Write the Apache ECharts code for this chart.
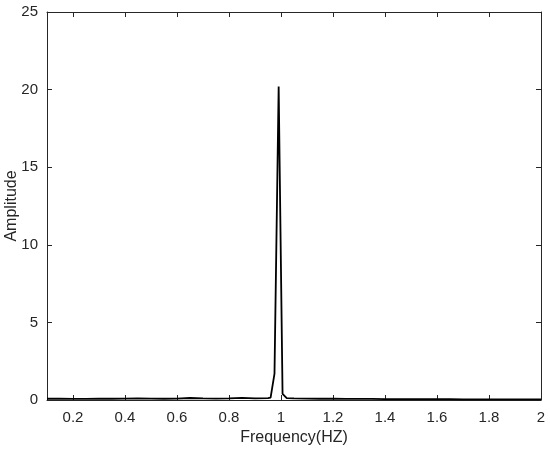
<!DOCTYPE html>
<html>
<head>
<meta charset="utf-8">
<script src="https://cdn.jsdelivr.net/npm/echarts@6/dist/echarts.min.js"></script>
<style>html,body{margin:0;padding:0;background:#fff}#c{width:550px;height:454px}</style>
</head>
<body>
<div id="c"></div>
<script>
// Frequency (Hz)
var freq = [0.10,0.15,0.20,0.25,0.30,0.35,0.40,0.45,0.50,0.55,0.60,0.65,0.70,0.75,0.80,0.85,0.90,0.95,
            0.960,0.975,0.991,1.006,1.022,
            1.05,1.10,1.15,1.20,1.25,1.30,1.35,1.40,1.45,1.50,1.55,1.60,1.65,1.70,1.75,1.80,1.85,1.90,1.95,2.00];
// Amplitude
var amp = [0.08,0.08,0.07,0.07,0.08,0.08,0.09,0.10,0.09,0.08,0.09,0.13,0.10,0.09,0.10,0.14,0.11,0.12,
           0.15,1.7,20.2,0.4,0.12,
           0.10,0.09,0.08,0.08,0.07,0.07,0.07,0.06,0.06,0.05,0.05,0.05,0.05,0.04,0.04,0.04,0.04,0.04,0.04,0.04];
var xTicks = [0.2,0.4,0.6,0.8,1.0,1.2,1.4,1.6,1.8,2.0];
var yTicks = [0,5,10,15,20,25];

var pts = freq.map(function(f,i){return [f, amp[i]];});
var axisCol = '#262626';
var font = 'Liberation Sans, Arial, sans-serif';
var chart = echarts.init(document.getElementById('c'));
chart.setOption({
  animation:false,
  grid:{left:47,right:9,top:12,bottom:54,containLabel:false,outerBoundsMode:'none'},
  xAxis:[{
    type:'value',min:0.1,max:2,position:'bottom',
    name:'Frequency(HZ)',nameLocation:'middle',nameGap:30,nameMoveOverlap:false,
    nameTextStyle:{color:axisCol,fontSize:16,fontFamily:font},
    axisLine:{show:true,onZero:false,lineStyle:{color:axisCol,width:1}},
    axisTick:{show:true,inside:true,length:5,customValues:xTicks,lineStyle:{color:axisCol}},
    axisLabel:{customValues:xTicks,color:axisCol,fontSize:15,fontFamily:font,margin:10,
      formatter:function(v){return String(+(+v).toFixed(1));}},
    splitLine:{show:false}
  },{
    type:'value',min:0.1,max:2,position:'top',
    axisLine:{show:true,onZero:false,lineStyle:{color:axisCol,width:1}},
    axisTick:{show:true,inside:true,length:5,customValues:xTicks,lineStyle:{color:axisCol}},
    axisLabel:{show:false},splitLine:{show:false}
  }],
  yAxis:[{
    type:'value',min:0,max:25,interval:5,position:'left',
    name:'Amplitude',nameLocation:'middle',nameGap:27,nameMoveOverlap:false,
    nameTextStyle:{color:axisCol,fontSize:16,fontFamily:font},
    axisLine:{show:true,onZero:false,lineStyle:{color:axisCol,width:1}},
    axisTick:{show:true,inside:true,length:5,lineStyle:{color:axisCol}},
    axisLabel:{color:axisCol,fontSize:15,fontFamily:font,margin:9},
    splitLine:{show:false}
  },{
    type:'value',min:0,max:25,interval:5,position:'right',
    axisLine:{show:true,onZero:false,lineStyle:{color:axisCol,width:1}},
    axisTick:{show:true,inside:true,length:5,lineStyle:{color:axisCol}},
    axisLabel:{show:false},splitLine:{show:false}
  }],
  series:[{
    type:'line',data:pts,showSymbol:false,symbol:'none',
    lineStyle:{color:'#000',width:1.8},
    xAxisIndex:0,yAxisIndex:0
  }]
});
</script>
</body>
</html>
